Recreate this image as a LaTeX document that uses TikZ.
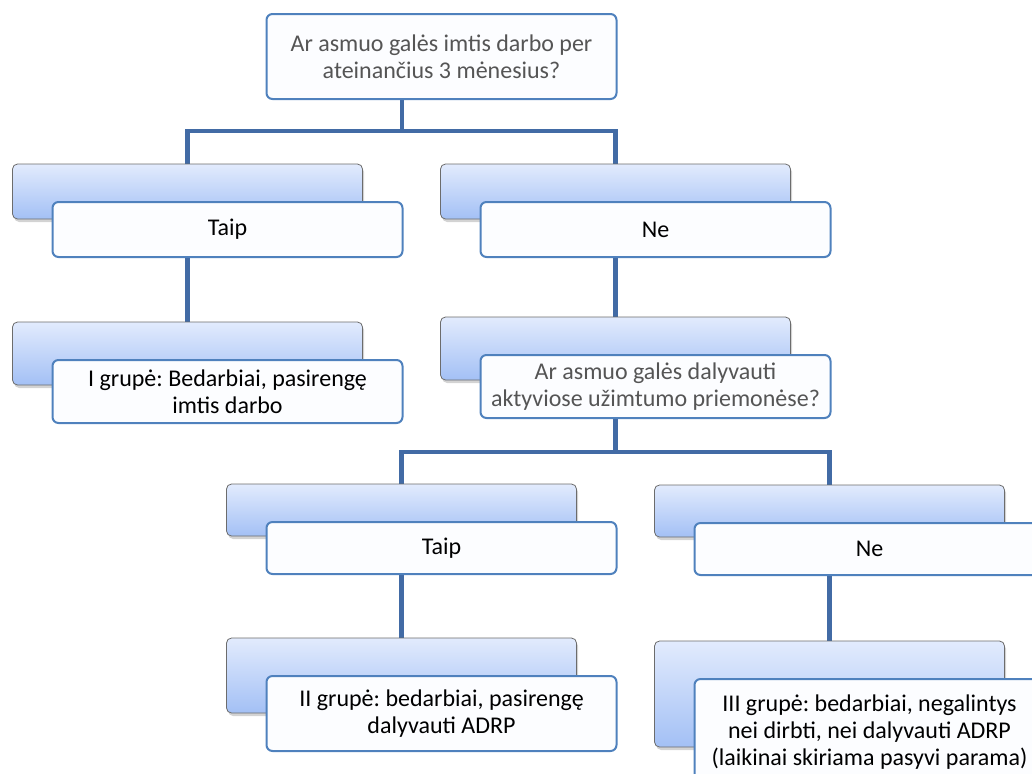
\documentclass[tikz,border=0pt]{standalone}
\usepackage{fontspec}
\setmainfont{Carlito}
\frenchspacing
\usetikzlibrary{positioning, calc, shadows, backgrounds}
\definecolor{linkblue}{RGB}{66,107,165}
\definecolor{frameblue}{RGB}{79,129,189}
\definecolor{shadetop}{RGB}{226,235,253}
\definecolor{shadebot}{RGB}{163,192,245}
\definecolor{asktext}{RGB}{85,85,85}
\definecolor{paper}{RGB}{252,253,255}

\begin{document}
\begin{tikzpicture}[x=0.5pt, y=-0.5pt,
    backbox/.style={draw=gray!85!black, line width=0.4pt, rounded corners=2.5pt, top color=shadetop, bottom color=shadebot, minimum width=175pt, drop shadow={shadow xshift=0.8pt, shadow yshift=-1.5pt, opacity=0.35}},
    frontbox/.style={draw=frameblue, line width=1pt, rounded corners=3pt, fill=paper, minimum width=175pt, align=center, font=\fontsize{12}{13.5}\selectfont},
    ask/.style={frontbox, text=asktext},
    link/.style={draw=linkblue, line width=2.2pt}]

  \useasboundingbox (0,0) rectangle (1032,773);
  \clip (0,0) rectangle (1032,773);

  \node[ask, minimum height=42.5pt] (top) at (441.5,56.5) {Ar asmuo galės imtis darbo per\\ ateinančius 3 mėnesius?};

  % Taip / Ne
  \node[backbox, minimum height=27.5pt] (b1) at (187.5,191.5) {};
  \node[frontbox, minimum height=27.5pt] (f1) at ([shift={(40,38)}]b1.center) {Taip};
  \node[backbox, minimum height=27.5pt] (b2) at (615.5,191.5) {};
  \node[frontbox, minimum height=27.5pt] (f2) at ([shift={(40,38)}]b2.center) {Ne};

  \node[backbox, minimum height=31.5pt] (b3) at (187.5,353.5) {};
  \node[frontbox, minimum height=31.5pt] (f3) at ([shift={(40,38)}]b3.center) {I grupė: Bedarbiai, pasirengę\\ imtis darbo};
  \node[backbox, minimum height=31.5pt] (b4) at (615.5,348.5) {};
  \node[ask, minimum height=31.5pt] (f4) at ([shift={(40,38)}]b4.center) {Ar asmuo galės dalyvauti\\ aktyviose užimtumo priemonėse?};

  % antras lygis
  \node[backbox, minimum height=26pt] (b5) at (401.5,510) {};
  \node[frontbox, minimum height=26pt] (f5) at ([shift={(40,38)}]b5.center) {Taip};
  \node[backbox, minimum height=26pt] (b6) at (829.5,511) {};
  \node[frontbox, minimum height=26pt] (f6) at ([shift={(40,38)}]b6.center) {Ne};

  \node[backbox, minimum height=37.5pt] (b7) at (401.5,675.5) {};
  \node[frontbox, minimum height=37.5pt] (f7) at ([shift={(40,38)}]b7.center) {II grupė: bedarbiai, pasirengę\\ dalyvauti ADRP};
  \node[backbox, minimum height=53pt] (b8) at (829.5,694) {};
  \node[frontbox, minimum height=53pt] (f8) at ([shift={(40,38)}]b8.center) {III grupė: bedarbiai, negalintys\\ nei dirbti, nei dalyvauti ADRP\\ (laikinai skiriama pasyvi parama)};

  \begin{scope}[on background layer]
    \coordinate (j1) at (402,131);
    \coordinate (j2) at (615.5,452);
    \draw[link] (top.south -| j1) -- (j1) (b3.north) |- (j1) -| (b4.north);
    \draw[link] (b4.south) -- (j2) (b7.north) |- (j2) -| (b8.north);
  \end{scope}

\end{tikzpicture}
\end{document}
